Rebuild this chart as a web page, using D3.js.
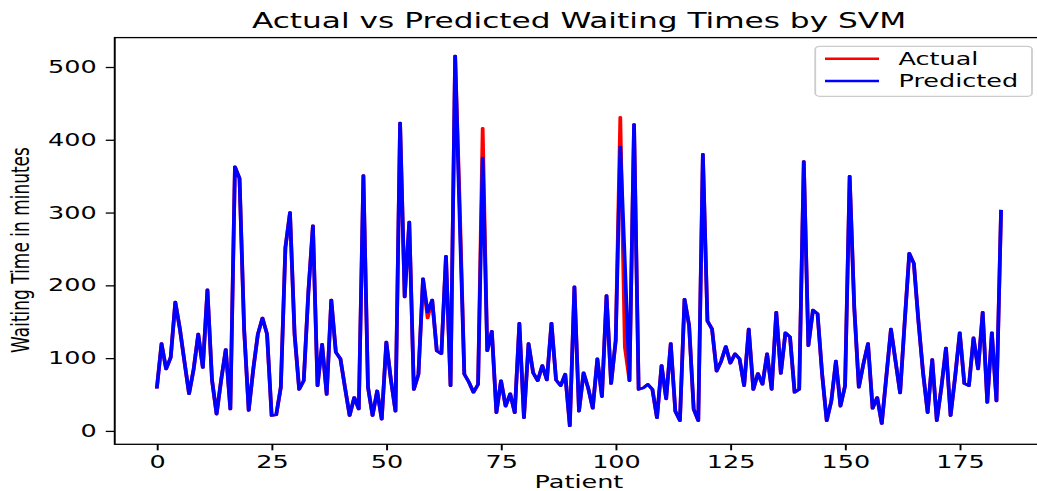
<!DOCTYPE html>
<html>
<head>
<meta charset="utf-8">
<script src="https://cdn.jsdelivr.net/npm/d3@7"></script>
<style>
	html, body { margin: 0; padding: 0; background: #fff; overflow: hidden; }
	svg { display: block; }
	text { font-family: "DejaVu Sans", sans-serif; fill: #000; }
</style>
</head>
<body>
<div id="chart"></div>
<script>

// waiting times in minutes, one value per patient
var actualTimes = [
	60, 120, 85, 101, 177, 140, 95, 51, 85, 133,
	87, 194, 70, 23, 70, 112, 30, 363, 347, 140,
	28, 85, 133, 155, 133, 21, 22, 60, 252, 300,
	133, 57, 69, 190, 282, 62, 119, 50, 180, 108,
	99, 59, 21, 46, 30, 351, 60, 21, 55, 16,
	122, 70, 27, 423, 184, 287, 57, 78, 209, 155,
	180, 110, 106, 240, 62, 515, 310, 78, 67, 53,
	64, 416, 110, 137, 25, 69, 34, 51, 25, 148,
	18, 120, 80, 69, 90, 70, 148, 70, 62, 78,
	7, 198, 27, 80, 59, 31, 99, 47, 186, 65,
	124, 431, 115, 69, 421, 57, 59, 64, 57, 18,
	90, 44, 120, 27, 14, 181, 145, 30, 14, 380,
	151, 140, 82, 96, 116, 93, 106, 99, 62, 140,
	57, 79, 64, 106, 57, 163, 79, 135, 129, 53,
	57, 370, 117, 166, 161, 78, 14, 41, 96, 34,
	62, 350, 170, 60, 92, 120, 31, 46, 10, 75,
	140, 96, 52, 150, 244, 230, 150, 80, 25, 98,
	14, 60, 114, 21, 75, 135, 65, 62, 128, 85,
	163, 39, 135, 41, 302
];

var predictedTimes = [
	60, 120, 85, 101, 177, 140, 95, 51, 85, 133,
	87, 194, 70, 23, 70, 112, 30, 363, 347, 140,
	28, 85, 133, 155, 133, 21, 22, 60, 252, 300,
	133, 57, 69, 190, 282, 62, 119, 50, 180, 108,
	99, 59, 21, 46, 30, 351, 60, 21, 55, 16,
	122, 70, 27, 423, 184, 287, 57, 78, 209, 163,
	180, 110, 106, 240, 62, 515, 290, 78, 67, 53,
	64, 375, 110, 137, 25, 69, 34, 51, 25, 148,
	18, 120, 80, 69, 90, 70, 148, 70, 62, 78,
	7, 198, 27, 80, 59, 31, 99, 47, 186, 65,
	124, 390, 230, 69, 421, 57, 59, 64, 57, 18,
	90, 44, 120, 27, 14, 181, 145, 30, 14, 380,
	151, 140, 82, 96, 116, 93, 106, 99, 62, 140,
	57, 79, 64, 106, 57, 163, 79, 135, 129, 53,
	57, 370, 117, 166, 161, 78, 14, 41, 96, 34,
	62, 350, 170, 60, 92, 120, 31, 46, 10, 75,
	140, 96, 52, 150, 244, 230, 150, 80, 25, 98,
	14, 60, 114, 21, 75, 135, 65, 62, 128, 85,
	163, 39, 135, 41, 302
];

var xTicks = [0, 25, 50, 75, 100, 125, 150, 175];
var yTicks = [0, 100, 200, 300, 400, 500];
var seriesNames = ["Actual", "Predicted"];
var seriesColors = ["#ff0000", "#0000ff"];

document.addEventListener("DOMContentLoaded", function(event) {

	var width = 1037;
	var height = 491;
	// the picture was drawn narrow and then stretched sideways, so draw in a
	// narrow box and let the viewBox stretch everything (text included)
	var stretch = 1.5;
	var innerW = width / stretch;

	var plot = { left: 76.5, right: 695.5, top: 37.6, bottom: 444.3 };
	var fontSize = 17;

	var n = actualTimes.length;
	var allValues = actualTimes.concat(predictedTimes);
	var yMin = d3.min(allValues), yMax = d3.max(allValues);
	// matplotlib-like 5% margins
	var xPad = (n - 1) * 0.05;
	var yPad = (yMax - yMin) * 0.05;

	var x = d3.scaleLinear()
		.domain([-xPad, n - 1 + xPad])
		.range([plot.left, plot.right]);

	var y = d3.scaleLinear()
		.domain([yMin - yPad, yMax + yPad])
		.range([plot.bottom, plot.top]);

	const svg = d3.select("#chart").append("svg")
		.attr("width", width)
		.attr("height", height)
		.attr("viewBox", [0, 0, innerW, height])
		.attr("preserveAspectRatio", "none");

	svg.append("rect")
		.attr("width", innerW)
		.attr("height", height)
		.attr("fill", "#fff");

	// lines
	var line = d3.line()
		.x((d, i) => x(i))
		.y(d => y(d));

	var series = [actualTimes, predictedTimes];
	svg.append("g")
		.attr("class", "lines")
		.selectAll("path")
		.data(series)
		.enter().append("path")
		.attr("d", d => line(d))
		.attr("fill", "none")
		.attr("stroke", (d, i) => seriesColors[i])
		.attr("stroke-width", 2.5)
		.attr("stroke-linejoin", "round")
		.attr("stroke-linecap", "square");

	// axes
	var xAxis = d3.axisBottom(x)
		.tickValues(xTicks)
		.tickSize(6)
		.tickPadding(6);

	var yAxis = d3.axisLeft(y)
		.tickValues(yTicks)
		.tickSize(6)
		.tickPadding(6);

	var gx = svg.append("g")
		.attr("transform", "translate(0," + plot.bottom + ")")
		.call(xAxis);

	var gy = svg.append("g")
		.attr("transform", "translate(" + plot.left + ",0)")
		.call(yAxis);

	[gx, gy].forEach(function(g) {
		g.select(".domain").remove();
		g.selectAll(".tick line")
			.attr("stroke", "#000")
			.attr("stroke-width", 1.3);
		g.selectAll(".tick text")
			.attr("font-size", fontSize)
			.attr("font-family", "DejaVu Sans")
			.attr("fill", "#000");
	});
	gx.selectAll(".tick text").attr("dy", "0.71em");

	// frame (right side falls outside the cropped picture)
	svg.append("rect")
		.attr("x", plot.left)
		.attr("y", plot.top)
		.attr("width", plot.right - plot.left)
		.attr("height", plot.bottom - plot.top)
		.attr("fill", "none")
		.attr("stroke", "#000")
		.attr("stroke-width", 1.3);

	// title and labels
	svg.append("text")
		.attr("x", (plot.left + plot.right) / 2)
		.attr("y", 28)
		.attr("text-anchor", "middle")
		.attr("font-size", 20.8)
		.text("Actual vs Predicted Waiting Times by SVM");

	svg.append("text")
		.attr("x", (plot.left + plot.right) / 2)
		.attr("y", 488.5)
		.attr("text-anchor", "middle")
		.attr("font-size", fontSize)
		.text("Patient");

	svg.append("text")
		.attr("transform", "translate(19,250) rotate(-90)")
		.attr("text-anchor", "middle")
		.attr("font-size", fontSize)
		.text("Waiting Time in minutes");

	// legend, upper right
	var legend = svg.append("g").attr("class", "legend");
	legend.append("rect")
		.attr("x", 543.5)
		.attr("y", 46.3)
		.attr("width", 144.5)
		.attr("height", 50)
		.attr("rx", 3)
		.attr("fill", "#fff")
		.attr("fill-opacity", 0.8)
		.attr("stroke", "#cccccc")
		.attr("stroke-width", 1.2);

	var rows = legend.selectAll("g.row")
		.data(seriesNames)
		.enter().append("g")
		.attr("class", "row")
		.attr("transform", (d, i) => "translate(0," + (i * 22.3) + ")");

	rows.append("line")
		.attr("x1", 550)
		.attr("x2", 586)
		.attr("y1", 58.8)
		.attr("y2", 58.8)
		.attr("stroke", (d, i) => seriesColors[i])
		.attr("stroke-width", 2.5);

	rows.append("text")
		.attr("x", 599)
		.attr("y", 64.8)
		.attr("font-size", fontSize)
		.text(d => d);

});
</script>
</body>
</html>
